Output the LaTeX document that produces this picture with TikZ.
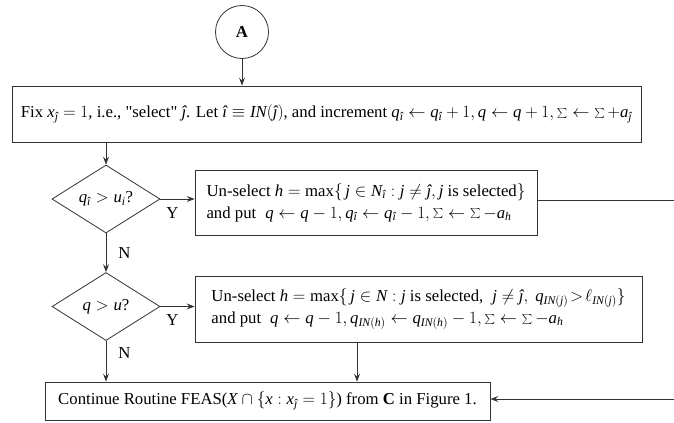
\documentclass[tikz,border=0pt]{standalone}
\usepackage{fontspec}
\setmainfont{Liberation Serif}[Ligatures=TeXOff]
\makeatletter
\edef\tmpdecl{\noexpand\DeclareSymbolFont{tlet}{TU}{\rmdefault}{m}{it}}\tmpdecl
\@tfor\x:=abcdefghijklmnopqrstuvwxyzABCDEFGHIJKLMNOPQRSTUVWXYZ\do{\Umathcode\expandafter`\x="7 \symtlet\expandafter`\x\relax}
\Umathchardef\ihat="7 \symtlet "00EE
\Umathchardef\jhat="7 \symtlet "0135
\makeatother
\usetikzlibrary{shapes.geometric,arrows.meta}
\newcommand\figfont{\fontsize{16.8}{22}\selectfont}
\tikzset{
 x=1bp, y=-1bp,
 line/.style={draw=black!80, line width=0.8bp},
 arr/.style={line, -{Stealth[length=8bp,width=6bp,inset=3bp]}},
 box/.style={draw=black!80, line width=0.8bp, rectangle, inner sep=0pt, font=\figfont},
 circ/.style={draw=black!80, line width=0.8bp, circle, inner sep=0pt, minimum size=53bp, font=\figfont},
 dia/.style={draw=black!80, line width=0.8bp, diamond, shape aspect=1.6, inner sep=0pt, minimum width=108bp, minimum height=68bp, font=\figfont},
 lab/.style={font=\figfont, inner sep=0pt}
}
\begin{document}
\begin{tikzpicture}
\useasboundingbox (0,0) rectangle (674,422);
\node[circ] (A) at (242,32) {\textbf{A}};
\node[box, minimum width=629bp, minimum height=56bp] (fix) at (326.5,114) {Fix $x_{\jhat}=1$,\ i.e., "select" $\jhat$. Let $\ihat\equiv IN(\jhat)$,\ and increment $q_{\ihat}\leftarrow q_{\ihat}+1, q\leftarrow q+1, \sum\leftarrow\sum+a_{\jhat}$};
\node[dia] (d1) at (106,199) {$q_{\ihat}>u_i$?};
\node[box, minimum width=342bp, minimum height=65bp, align=left] (b1) at (366,202.5) {Un-select $h=\max\{\,j\in N_{\ihat}: j\neq\jhat, j$ is selected$\}$\\and put $\;q\leftarrow q-1, q_{\ihat}\leftarrow q_{\ihat}-1, \sum\leftarrow\sum -a_h$};
\node[dia] (d2) at (106,306.5) {$q>u$?};
\node[box, minimum width=447bp, minimum height=66bp, align=left] (b2) at (418.5,309) {Un-select $h=\max\{\,j\in N: j$ is selected, $\;j\neq\jhat,\ q_{IN(j)}\!>\!\ell_{IN(j)}\}$\\and put $\;q\leftarrow q-1, q_{IN(h)}\leftarrow q_{IN(h)}-1, \sum\leftarrow\sum -a_h$};
\node[box, minimum width=445bp, minimum height=38bp] (cont) at (267.5,401) {Continue Routine FEAS($X\cap\{x: x_{\jhat}=1\}$) from \textbf{C} in Figure 1.};
\coordinate (r1) at (674,200);
\coordinate (r2) at (674,399);
\coordinate (m) at (357,342);
\draw[arr] (A) -- (fix.north -| A);
\draw[arr] (fix.south -| d1) -- (d1.north);
\draw[arr] (d1.east) -- (d1.east -| b1.west) node[lab, pos=0.35, below=8bp] {Y};
\draw[arr] (d1.south) -- (d2.north) node[lab, pos=0.5, right=12bp] {N};
\draw[arr] (d2.east) -- (d2.east -| b2.west) node[lab, pos=0.35, below=8bp] {Y};
\draw[arr] (d2.south) -- (d2.south |- cont.north) node[lab, pos=0.3, right=12bp] {N};
\draw[arr] (b2.south -| m) -- (cont.north -| m);
\draw[line] (b1.east |- r1) -- (r1);
\draw[arr] (r2) -- (r2 -| cont.east);
\end{tikzpicture}
\end{document}
